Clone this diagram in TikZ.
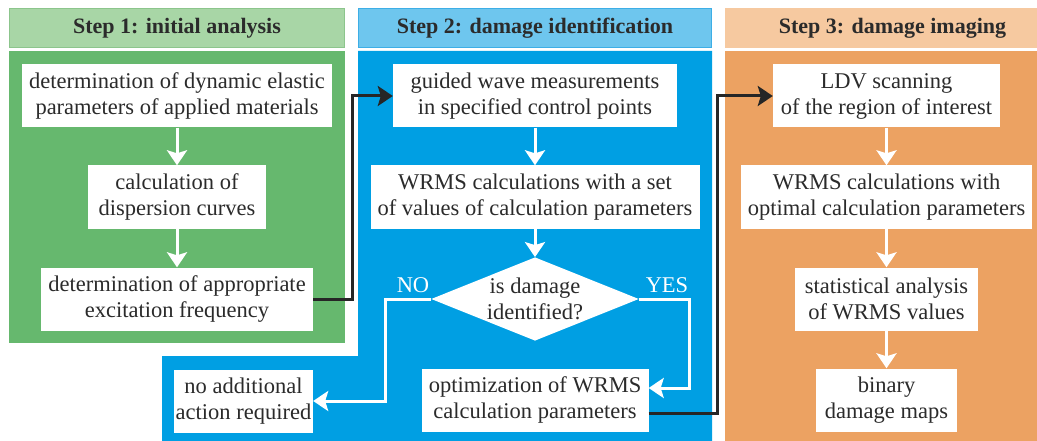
\documentclass[tikz,border=0pt]{standalone}
\usepackage{fontspec}
\setmainfont{Liberation Serif}
\usetikzlibrary{shapes.geometric, arrows.meta, positioning}

\definecolor{hgreen}{HTML}{A8D6A6}
\definecolor{hgreenline}{HTML}{8CC58C}
\definecolor{pgreen}{HTML}{66B86E}
\definecolor{hblue}{HTML}{6EC6EE}
\definecolor{hblueline}{HTML}{3DAEE6}
\definecolor{pblue}{HTML}{009FE3}
\definecolor{horange}{HTML}{F6C9A0}
\definecolor{porange}{HTML}{ECA262}
\definecolor{txt}{HTML}{2B2B2B}

\begin{document}
\begin{tikzpicture}[x=1pt, y=-1pt,
    head/.style={draw, line width=1pt, minimum height=39pt, inner sep=0pt,
        font=\fontsize{22}{26}\selectfont\bfseries, text=txt},
    wbox/.style={fill=white, minimum height=63pt, inner sep=0pt, align=center,
        font=\fontsize{22.5}{26}\selectfont, text=txt},
    warrow/.style={white, line width=3pt, -{Stealth[length=15pt, width=20pt, inset=3pt]}},
    barrow/.style={black!85, line width=3pt, -{Stealth[length=15pt, width=20pt, inset=3pt]}},
    answer/.style={text=white, font=\fontsize{22.5}{26}\selectfont}]

    \clip (0,0) rectangle (1037,441);

    % panels
    \fill[pgreen] (9,51) rectangle (345,343);
    \fill[pblue] (358,51) -- (712,51) -- (712,441) -- (162,441) -- (162,356) -- (358,356) -- cycle;
    \fill[porange] (725,51) rectangle (1060,441);

    % headers
    \node[head, fill=hgreen, draw=hgreenline, minimum width=335pt] (h1) at (177,28.5) {Step 1: initial analysis};
    \node[head, fill=hblue, draw=hblueline, minimum width=353pt] (h2) at (535,28.5) {Step 2: damage identification};
    \node[head, fill=horange, draw=horange, minimum width=335pt] (h3) at (892.5,28.5) {Step 3: damage imaging};

    % Step 1
    \node[wbox, minimum width=310pt] (b1) at (177,96) {determination of dynamic elastic\\parameters of applied materials};
    \node[wbox, minimum width=178pt] (b2) at (177,197) {calculation of\\dispersion curves};
    \node[wbox, minimum width=272pt] (b3) at (177,299) {determination of appropriate\\excitation frequency};

    % Step 2
    \node[wbox, minimum width=284pt] (c1) at (535,96) {guided wave measurements\\in specified control points};
    \node[wbox, minimum width=329pt] (c2) at (535,197) {WRMS calculations with a set\\of values of calculation parameters};
    \node[wbox, shape=diamond, aspect=2.49, minimum height=0pt, inner sep=1pt] (dia) at (535,299) {is damage\\identified?};
    \node[wbox, minimum width=227pt] (c4) at (535,400) {optimization of WRMS\\calculation parameters};
    \node[wbox, minimum width=139pt] (na) at (243.5,401) {no additional\\action required};

    % Step 3
    \node[wbox, minimum width=227pt] (d1) at (886.5,96) {LDV scanning\\of the region of interest};
    \node[wbox, minimum width=291pt] (d2) at (886.5,197) {WRMS calculations with\\optimal calculation parameters};
    \node[wbox, minimum width=183pt] (d3) at (886.5,299) {statistical analysis\\of WRMS values};
    \node[wbox, minimum width=141pt] (d4) at (886.5,400) {binary\\damage maps};

    % flow inside the panels
    \draw[warrow] (b1) -- (b2);
    \draw[warrow] (b2) -- (b3);
    \draw[warrow] (c1) -- (c2);
    \draw[warrow] (c2) -- (dia);
    \draw[warrow] (d1) -- (d2);
    \draw[warrow] (d2) -- (d3);
    \draw[warrow] (d3) -- (d4);

    % decision
    \draw[warrow] (dia.west) -- ++(-46,0) |- (na.east);
    \draw[warrow] (dia.east) -- ++(50,0) |- ([yshift=12pt]c4.east);
    \node[answer] (no) at (413,285) {NO};
    \node[answer] (yes) at (667,285) {YES};

    % links between steps
    \draw[barrow] (b3.east) -- ++(39,0) |- (c1.west);
    \draw[barrow] ([yshift=-13pt]c4.east) -- ++(69,0) |- (d1.west);

\end{tikzpicture}
\end{document}
